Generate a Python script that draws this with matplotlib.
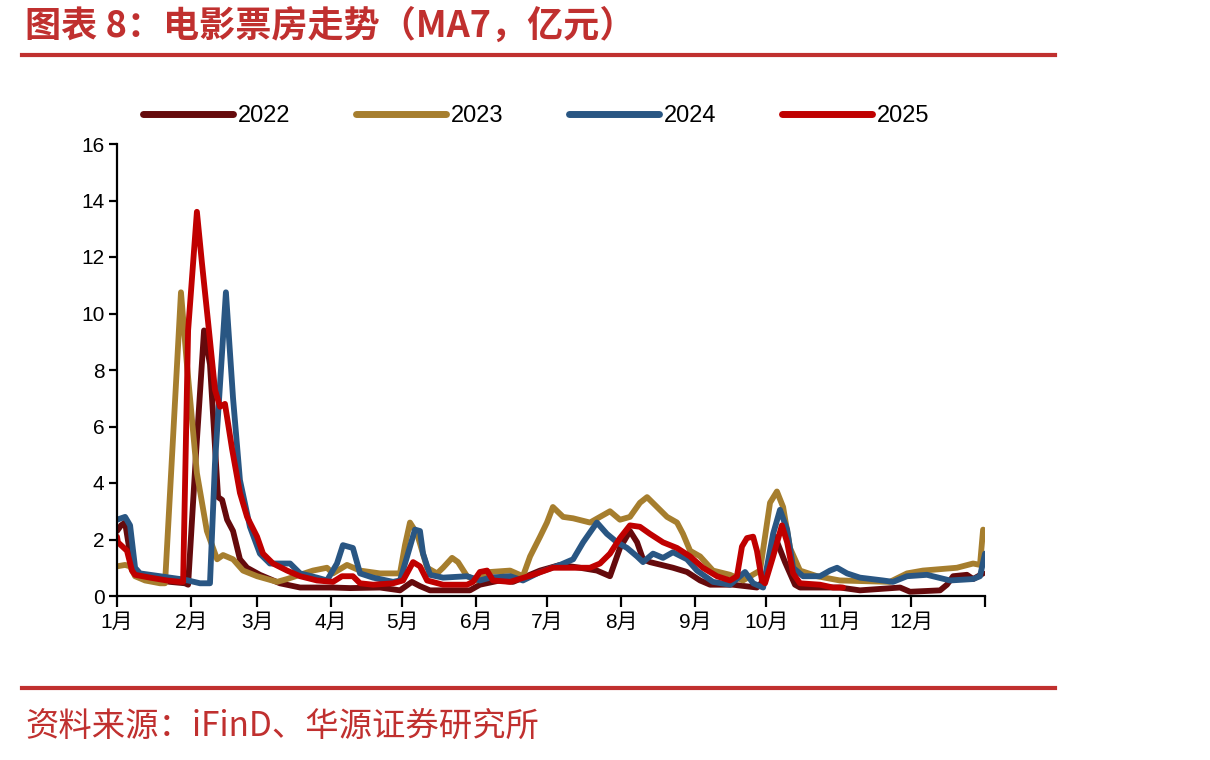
import numpy as np
from matplotlib import pyplot as plt
from matplotlib.lines import Line2D

plt.rcParams['font.family'] = ['Liberation Sans', 'Noto Sans CJK SC', 'DejaVu Sans']

# day of year / MA7 box office (100m yuan)
days_2022 = [0, 1.7, 3.4, 5.5, 7.6, 13.9, 22.3, 28.6, 29.9, 33.2, 36.6, 39.1, 42.5, 44.2, 46.3,
             48.8, 51.7, 54.7, 60.1, 68.5, 77, 90.8, 98, 110.6, 119, 124, 127.4, 131.6, 148.4,
             152.6, 161, 166.5, 177.9, 186.3, 194.7, 201.8, 207.3, 211.5, 215.7, 218.7, 221.2,
             224.1, 233.8, 239.7, 245.2, 249.4, 259, 269.1, 272.5, 276.7, 280.9, 285.1, 287.2,
             304, 312.4, 329.3, 333.5, 346.1, 349, 351.6, 357.4, 360, 364.2]
vals_2022 = [2.3, 2.5, 2.6, 1.5, 0.75, 0.6, 0.5, 0.45, 0.4, 5.0, 9.4, 8.2, 3.5, 3.4, 2.7,
             2.3, 1.3, 1.0, 0.75, 0.45, 0.3, 0.3, 0.28, 0.3, 0.2, 0.5, 0.35, 0.2, 0.2,
             0.4, 0.55, 0.5, 0.9, 1.1, 1.0, 0.9, 0.7, 1.7, 2.3, 1.9, 1.3,
             1.2, 1.0, 0.85, 0.55, 0.4, 0.4, 0.3, 0.6, 2.1, 1.2, 0.4, 0.3,
             0.3, 0.2, 0.3, 0.15, 0.2, 0.4, 0.7, 0.75, 0.6, 0.8]

days_2023 = [0, 3.4, 5.5, 7.6, 11.8, 18.1, 20.2, 23.5, 26.9, 29.4, 33.6, 37.8, 42.1, 44.6, 48.8,
             53, 58.9, 67.3, 71.5, 82.4, 88.3, 90.8, 96.7, 102.2, 110.6, 119, 121.1, 123.2,
             126.2, 130.4, 134.6, 137.1, 140.9, 143.4, 147.2, 151.4, 156.9, 165.3, 170.7, 173.7,
             177.9, 180.8, 183.3, 187.6, 191.8, 198.9, 203.1, 207.3, 211.5, 215.7, 219.9, 222.9,
             227.1, 231.3, 235.5, 238, 241, 245.2, 250.6, 257.8, 263.2, 270.4, 274.6, 277.5,
             280.1, 283, 287.2, 294.4, 304, 325, 332.2, 338.9, 353.2, 360, 362.9, 364.2]
vals_2023 = [1.05, 1.1, 1.05, 0.7, 0.55, 0.45, 0.45, 5.5, 10.75, 8.2, 4.35, 2.3, 1.3, 1.45, 1.3,
             0.9, 0.7, 0.5, 0.6, 0.9, 1.0, 0.8, 1.1, 0.9, 0.8, 0.8, 1.8, 2.6,
             2.2, 1.0, 0.8, 1.0, 1.35, 1.2, 0.7, 0.55, 0.85, 0.9, 0.7, 1.4,
             2.1, 2.6, 3.15, 2.8, 2.75, 2.6, 2.8, 3.0, 2.7, 2.8, 3.3, 3.5,
             3.15, 2.8, 2.6, 2.2, 1.6, 1.4, 0.9, 0.75, 0.55, 0.9, 3.3, 3.7,
             3.15, 1.7, 0.9, 0.7, 0.55, 0.5, 0.8, 0.9, 1.0, 1.15, 1.1, 2.35]

days_2024 = [0, 3.4, 5.5, 7.6, 9.7, 18.1, 26.5, 29.9, 34.9, 39.1, 41.2, 45.8, 48.8, 51.7, 55.9,
             60.1, 64.3, 68.5, 72.8, 77, 84.1, 88.3, 92.5, 95, 99.2, 102.2, 107.7, 116.1, 119,
             122, 125.3, 127.4, 128.7, 131.6, 137.1, 147.2, 152.6, 156.9, 165.3, 170.7, 177.9,
             186.3, 191.8, 196, 201.8, 206, 210.3, 214.5, 218.7, 221.2, 225.4, 229.6, 233.8,
             239.7, 243.9, 250.6, 257.8, 262, 264.1, 267.5, 271.7, 275.9, 278.8, 281.8, 284.3,
             288.5, 295.6, 299.8, 302.8, 307, 312.4, 322.1, 326.3, 332.2, 340.6, 350.3, 360,
             362.9, 365]
vals_2024 = [2.7, 2.8, 2.5, 1.0, 0.8, 0.7, 0.6, 0.55, 0.45, 0.45, 4.7, 10.75, 7.0, 4.1, 2.45,
             1.5, 1.15, 1.15, 1.15, 0.8, 0.65, 0.55, 1.15, 1.8, 1.7, 0.8, 0.65, 0.5, 0.55,
             1.4, 2.35, 2.3, 1.5, 0.75, 0.65, 0.7, 0.55, 0.65, 0.7, 0.55, 0.85,
             1.1, 1.3, 1.9, 2.6, 2.2, 1.9, 1.7, 1.4, 1.2, 1.5, 1.35, 1.55,
             1.3, 0.9, 0.5, 0.4, 0.7, 0.85, 0.45, 0.3, 2.2, 3.05, 2.35, 1.0,
             0.7, 0.7, 0.9, 1.0, 0.8, 0.65, 0.55, 0.5, 0.7, 0.75, 0.55, 0.6,
             0.7, 1.5]

days_2025 = [0, 0.4, 4.2, 6.3, 7.6, 13.9, 21, 26.5, 27.8, 29.9, 33.6, 35.7, 38.3, 41.2, 43.3,
             45.4, 48.4, 51.7, 54.7, 58.9, 61.4, 65.6, 71.5, 77, 84.1, 90.8, 94.6, 99.2, 102.2,
             107.7, 116.1, 120.3, 124.5, 127.4, 130.4, 137.1, 147.2, 149.7, 152.6, 155.6, 158.1,
             165.3, 174.9, 183.3, 191.8, 198.9, 203.1, 207.3, 211.5, 215.7, 219.9, 224.1, 229.6,
             235.5, 241, 246.4, 252.3, 257.8, 260.7, 262.8, 264.9, 267.5, 269.1, 271.2, 272.5,
             275.9, 279.6, 281.8, 284.3, 287.2, 295.6, 301.1, 305.3]
vals_2025 = [2.1, 1.9, 1.6, 0.9, 0.75, 0.65, 0.55, 0.5, 0.5, 9.4, 13.6, 11.8, 9.7, 7.3, 6.7,
             6.8, 5.2, 3.65, 2.8, 2.1, 1.5, 1.15, 0.9, 0.7, 0.55, 0.5, 0.7, 0.7, 0.45,
             0.4, 0.45, 0.55, 1.2, 1.05, 0.55, 0.4, 0.4, 0.5, 0.85, 0.9, 0.55,
             0.5, 0.75, 1.0, 1.0, 1.0, 1.15, 1.5, 2.05, 2.5, 2.45, 2.2, 1.9,
             1.7, 1.4, 1.0, 0.7, 0.55, 0.7, 1.75, 2.05, 2.1, 1.6, 0.55, 0.45,
             1.4, 2.5, 1.9, 0.8, 0.45, 0.4, 0.3, 0.3]

years = ['2022', '2023', '2024', '2025']
colors = ['#650A0C', '#A67E2E', '#295683', '#C00000']
month_days = [0, 31, 59, 90, 120, 151, 181, 212, 243, 273, 304, 334, 365]
month_labels = ['1月', '2月', '3月', '4月', '5月', '6月', '7月', '8月', '9月', '10月', '11月', '12月', '']

series = [(days_2022, vals_2022), (days_2023, vals_2023), (days_2024, vals_2024), (days_2025, vals_2025)]

fig = plt.figure(figsize=(12.1, 7.6), dpi=100)
ax = fig.add_axes([117 / 1210, 164 / 760, 868 / 1210, 452 / 760])

for (d, v), c in zip(series, colors):
    ax.plot(d, v, color=c, linewidth=4.2, solid_joinstyle='round', solid_capstyle='round')

ax.set_xlim(0, 365)
ax.set_ylim(0, 16)
ax.set_yticks(np.arange(0, 17, 2))
ax.set_xticks(month_days)
ax.set_xticklabels(month_labels)
for s in ['top', 'right']:
    ax.spines[s].set_visible(False)
for s in ['left', 'bottom']:
    ax.spines[s].set_linewidth(1.6)
ax.tick_params(axis='both', direction='out', width=1.6, labelsize=15, colors='black')
ax.tick_params(axis='y', length=6, pad=3)
ax.tick_params(axis='x', length=8, pad=4)

handles = [Line2D([], [], color=c, linewidth=5, solid_capstyle='round') for c in colors]
fig.legend(handles, years, loc='center left', bbox_to_anchor=(122 / 1210, 1 - 116 / 760),
           ncol=4, frameon=False, fontsize=17, handlelength=3.8, handletextpad=0.2,
           columnspacing=2.8)

red = '#C0302F'
fig.add_artist(Line2D([22 / 1210, 1055 / 1210], [1 - 55 / 760] * 2, color=red, linewidth=3))
fig.add_artist(Line2D([22 / 1210, 1055 / 1210], [1 - 688 / 760] * 2, color=red, linewidth=3))
fig.text(25 / 1210, 1 - 26 / 760, '图表 8：电影票房走势（MA7，亿元）', color=red, fontsize=26,
         fontweight='bold', va='center', ha='left', family=['Noto Sans CJK SC', 'DejaVu Sans'])
fig.text(25 / 1210, 1 - 726 / 760, '资料来源：iFinD、华源证券研究所', color=red, fontsize=24,
         va='center', ha='left', family=['Noto Sans CJK SC', 'DejaVu Sans'])

fig.savefig('out.png', dpi=100)
